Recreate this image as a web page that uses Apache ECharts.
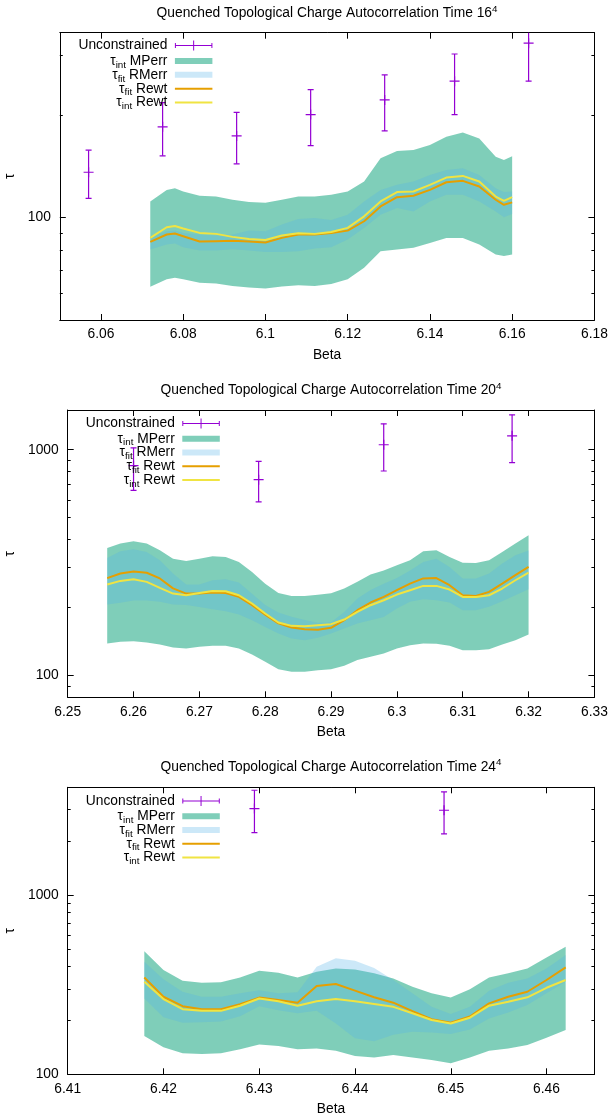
<!DOCTYPE html>
<html>
<head>
<meta charset="utf-8">
<script src="https://cdn.jsdelivr.net/npm/echarts@6/dist/echarts.min.js"></script>
<style>
html,body{margin:0;padding:0;background:#fff;}
#c{width:614px;height:1120px;}
</style>
</head>
<body>
<div id="c"></div>
<script>
// ---------------- Panel 1 : 16^4 ----------------
const P1_XRANGE = [6.05, 6.18];
const P1_YRANGE = [50, 350];
const P1_XTICKS = [6.06, 6.08, 6.10, 6.12, 6.14, 6.16, 6.18];
const P1_YMAJOR = [100];
const P1_YMINOR = [50, 60, 70, 80, 90, 200, 300];
const P1_UNC_BETA = [6.057, 6.075, 6.093, 6.111, 6.129, 6.146, 6.164];
const P1_UNC_TAU  = [136, 185, 174, 201, 222, 252, 326];
const P1_UNC_LO   = [114, 152, 144, 163, 180, 201, 252];
const P1_UNC_HI   = [158, 218, 204, 238, 263, 303, 420];
const P1_BETA  = [6.072, 6.076, 6.078, 6.080, 6.084, 6.088, 6.092, 6.096, 6.100, 6.104, 6.108, 6.112, 6.116, 6.120, 6.124, 6.128, 6.132, 6.136, 6.140, 6.144, 6.148, 6.152, 6.156, 6.158, 6.160];
const P1_MP_HI = [111.6, 120.7, 122.1, 119.4, 116.0, 115.4, 112.9, 111.1, 110.6, 112.9, 115.4, 115.4, 116.7, 119.4, 127.7, 149.5, 157.0, 158.1, 163.5, 172.9, 178.0, 171.0, 151.1, 147.8, 151.6];
const P1_MP_LO = [62.6, 65.9, 66.6, 65.9, 64.4, 64.0, 63.0, 62.3, 61.9, 62.7, 63.3, 63.0, 63.8, 65.9, 71.2, 79.7, 80.6, 81.5, 84.3, 87.2, 87.2, 83.4, 77.9, 77.1, 77.9];
const P1_RM_HI = [88.2, 91.2, 91.6, 90.2, 89.2, 88.6, 89.2, 91.6, 91.2, 95.4, 99.1, 99.8, 98.5, 102.0, 111.6, 120.7, 124.9, 127.7, 133.6, 138.2, 139.7, 133.6, 122.1, 119.0, 119.4];
const P1_RM_LO = [80.6, 83.4, 83.9, 81.9, 80.1, 80.1, 80.8, 80.1, 79.2, 79.2, 79.7, 81.2, 81.9, 86.2, 93.3, 102.0, 106.7, 104.3, 111.6, 116.7, 116.7, 111.6, 104.3, 100.2, 102.5];
const P1_FIT   = [84.9, 89.2, 89.8, 88.2, 85.1, 85.3, 85.5, 85.1, 84.5, 87.2, 89.2, 89.2, 90.2, 91.6, 97.6, 107.9, 114.9, 116.0, 120.7, 127.1, 128.3, 123.5, 112.9, 109.1, 110.9];
const P1_INT   = [87.2, 93.7, 94.5, 92.9, 90.2, 89.6, 87.8, 86.6, 86.0, 88.6, 90.0, 89.6, 90.8, 93.3, 100.9, 111.6, 118.9, 119.4, 124.9, 131.2, 132.7, 127.7, 115.4, 112.1, 114.9];

// ---------------- Panel 2 : 20^4 ----------------
const P2_XRANGE = [6.25, 6.33];
const P2_YRANGE = [80, 1500];
const P2_XTICKS = [6.25, 6.26, 6.27, 6.28, 6.29, 6.30, 6.31, 6.32, 6.33];
const P2_YMAJOR = [100, 1000];
const P2_YMINOR = [90, 200, 300, 400, 500, 600, 700, 800, 900];
const P2_UNC_BETA = [6.26, 6.279, 6.298, 6.3175];
const P2_UNC_TAU  = [850, 737, 1052, 1153];
const P2_UNC_LO   = [661, 587, 805, 876];
const P2_UNC_HI   = [1020, 888, 1303, 1428];
const P2_BETA  = [6.256, 6.258, 6.260, 6.262, 6.264, 6.266, 6.268, 6.270, 6.272, 6.274, 6.276, 6.278, 6.280, 6.282, 6.284, 6.286, 6.288, 6.290, 6.292, 6.294, 6.296, 6.298, 6.300, 6.302, 6.304, 6.306, 6.308, 6.310, 6.312, 6.314, 6.316, 6.318, 6.320];
const P2_MP_HI = [367, 384, 393, 384, 359, 329, 321, 329, 337, 335, 318, 287, 255, 232, 225, 225, 228, 231, 243, 260, 280, 292, 308, 324, 355, 359, 335, 316, 315, 324, 352, 384, 418];
const P2_MP_LO = [138.5, 140.9, 141.8, 139.9, 137.1, 133.0, 131.6, 133.9, 135.2, 135.2, 131.6, 123.8, 114.9, 106.6, 103.8, 103.8, 105.5, 106.6, 110.3, 116.9, 120.9, 125.1, 131.6, 136.2, 138.5, 138.0, 135.2, 129.4, 129.4, 130.7, 137.1, 143.3, 151.8];
const P2_RM_HI = [331, 355, 362, 352, 324, 283, 253, 253, 264, 267, 258, 230, 205, 190, 182, 176, 171, 172, 191, 219, 239, 255, 270, 292, 318, 329, 302, 269, 269, 283, 313, 341, 358];
const P2_RM_LO = [206, 210, 215, 215, 212, 206, 205, 201, 196.5, 192.6, 186.2, 175.7, 164.1, 153.4, 145.7, 143.3, 146.7, 153.4, 161.4, 169.8, 175.7, 181.7, 197.9, 211.8, 217.6, 215.4, 210.4, 194.5, 194.5, 201.3, 213.3, 226.6, 241];
const P2_FIT   = [270, 283, 289, 285, 269, 243, 230.5, 230.5, 233, 232, 223, 205, 186, 170, 163, 160, 159.5, 162.5, 175.7, 194.5, 210.4, 222.8, 238.6, 255, 269, 270, 251, 226.6, 225, 234.5, 255, 278, 302.5];
const P2_INT   = [252.7, 262.3, 266.8, 259.7, 244.3, 230.5, 226.6, 232.1, 236.9, 236.1, 226.6, 208.3, 188.1, 171.6, 165.8, 165.3, 167.0, 168.7, 176.9, 191.3, 204.7, 215.4, 228.2, 238.6, 249.3, 249.3, 240.2, 222.8, 222.8, 226.6, 242.7, 264.1, 285.5];

// ---------------- Panel 3 : 24^4 ----------------
const P3_XRANGE = [6.41, 6.465];
const P3_YRANGE = [100, 4000];
const P3_XTICKS = [6.41, 6.42, 6.43, 6.44, 6.45, 6.46];
const P3_YMAJOR = [100, 1000];
const P3_YMINOR = [200, 300, 400, 500, 600, 700, 800, 900, 2000, 3000, 4000];
const P3_UNC_BETA = [6.4295, 6.4493];
const P3_UNC_TAU  = [3043, 2979];
const P3_UNC_LO   = [2236, 2198];
const P3_UNC_HI   = [3850, 3768];
const P3_BETA  = [6.418, 6.420, 6.422, 6.424, 6.426, 6.428, 6.430, 6.432, 6.434, 6.436, 6.438, 6.440, 6.442, 6.444, 6.446, 6.448, 6.450, 6.452, 6.454, 6.456, 6.458, 6.460, 6.462];
const P3_MP_HI = [487, 382, 333, 324, 326, 347, 378, 369, 347, 374, 390, 385, 366, 343, 308, 283, 268, 298, 347, 366, 390, 449, 515];
const P3_MP_LO = [163.6, 141.4, 130.9, 129.8, 130.9, 137.8, 146.9, 143.8, 137.8, 139.5, 135.4, 126.5, 124.3, 128.1, 124.3, 120.2, 115.1, 124.3, 135.4, 139.5, 145.7, 160.1, 176.6];
const P3_RM_HI = [425, 339, 289, 271, 271, 283, 295, 283, 287, 398, 444, 430, 392, 336, 283, 238, 217, 238, 293, 324, 343, 390, 463];
const P3_RM_LO = [265, 208, 194, 195, 197, 211, 240, 228, 219, 226, 192, 159, 153, 166, 173, 171, 168, 178, 205, 221, 244, 283, 329];
const P3_FIT   = [347, 271, 240, 231, 231, 246, 268, 260, 251, 311, 319, 293, 269, 251, 225, 203, 194, 210, 249, 271, 289, 336, 395];
const P3_INT   = [329, 263, 231, 226, 226, 241.5, 265, 256, 241.5, 256, 263, 256, 247, 238, 219, 201, 192, 207, 241.5, 254, 269, 304, 336];

// ---------------- styling ----------------
const FONT = '"Liberation Sans", Arial, sans-serif';
const FS = 13.8;
const BLACK = '#000';
const COL = {
  unc: '#9400d3',
  mp: 'rgba(0,158,115,0.5)',
  rm: 'rgba(86,180,233,0.3)',
  fit: '#e69f00',
  int: '#f0e442'
};
const NAMES = ['Unconstrained', 'τint MPerr', 'τfit RMerr', 'τfit Rewt', 'τint Rewt'];
const LEGEND_TEXT = {
  'Unconstrained': '{e|Unconstrained}',
  'τint MPerr': '{m|τ}{s|int}{e| MPerr}',
  'τfit RMerr': '{m|τ}{s|fit}{e| RMerr}',
  'τfit Rewt': '{m|τ}{s|fit}{e| Rewt}',
  'τint Rewt': '{m|τ}{s|int}{e| Rewt}'
};
const RICH = {
  m: {fontSize: FS, fontFamily: FONT, color: BLACK, lineHeight: 18},
  e: {fontSize: FS, fontFamily: FONT, color: BLACK, lineHeight: 18, padding: [0, 2.5, 0, 0]},
  s: {fontSize: 9.8, fontFamily: FONT, color: BLACK, lineHeight: 10, padding: [8, 0, 0, 0]}
};
const ERR_ICON = 'path://M0 4.5H37.5V5.5H0Z M0 2.5H1V7.5H0Z M36.5 2.5H37.5V7.5H36.5Z M18.25 0H19.25V10H18.25Z';

const PANELS = [
  {sup: '16', grid: {left: 59.8, top: 32.7, width: 534.6, height: 287.3}, titleX: 327, titleTop: 4.3,
   yNameGap: 43, legRight: 401.6, legC0: 47, legStep: 13.9,
   xr: P1_XRANGE, yr: P1_YRANGE, xt: P1_XTICKS, ymaj: P1_YMAJOR, ymin: P1_YMINOR,
   ub: P1_UNC_BETA, ut: P1_UNC_TAU, ul: P1_UNC_LO, uh: P1_UNC_HI,
   b: P1_BETA, mpHi: P1_MP_HI, mpLo: P1_MP_LO, rmHi: P1_RM_HI, rmLo: P1_RM_LO, fit: P1_FIT, tint: P1_INT},
  {sup: '20', grid: {left: 67.7, top: 410, width: 526.7, height: 287.3}, titleX: 331, titleTop: 381,
   yNameGap: 51, legRight: 394.2, legC0: 425, legStep: 13.75,
   xr: P2_XRANGE, yr: P2_YRANGE, xt: P2_XTICKS, ymaj: P2_YMAJOR, ymin: P2_YMINOR,
   ub: P2_UNC_BETA, ut: P2_UNC_TAU, ul: P2_UNC_LO, uh: P2_UNC_HI,
   b: P2_BETA, mpHi: P2_MP_HI, mpLo: P2_MP_LO, rmHi: P2_RM_HI, rmLo: P2_RM_LO, fit: P2_FIT, tint: P2_INT},
  {sup: '24', grid: {left: 67.7, top: 787.3, width: 526.7, height: 287}, titleX: 331, titleTop: 757.7,
   yNameGap: 51, legRight: 394.2, legC0: 802.5, legStep: 13.75,
   xr: P3_XRANGE, yr: P3_YRANGE, xt: P3_XTICKS, ymaj: P3_YMAJOR, ymin: P3_YMINOR,
   ub: P3_UNC_BETA, ut: P3_UNC_TAU, ul: P3_UNC_LO, uh: P3_UNC_HI,
   b: P3_BETA, mpHi: P3_MP_HI, mpLo: P3_MP_LO, rmHi: P3_RM_HI, rmLo: P3_RM_LO, fit: P3_FIT, tint: P3_INT}
];

function errRender(params, api) {
  const x = api.value(0), y = api.value(1), lo = api.value(2), hi = api.value(3);
  const c = api.coord([x, y]), a = api.coord([x, lo]), t = api.coord([x, hi]);
  const cap = 3, mk = 5;
  const st = () => ({stroke: COL.unc, lineWidth: 1.2});
  return {type: 'group', children: [
    {type: 'line', shape: {x1: a[0], y1: a[1], x2: t[0], y2: t[1]}, style: st()},
    {type: 'line', shape: {x1: a[0] - cap, y1: a[1], x2: a[0] + cap, y2: a[1]}, style: st()},
    {type: 'line', shape: {x1: t[0] - cap, y1: t[1], x2: t[0] + cap, y2: t[1]}, style: st()},
    {type: 'line', shape: {x1: c[0] - mk, y1: c[1], x2: c[0] + mk, y2: c[1]}, style: st()},
    {type: 'line', shape: {x1: c[0], y1: c[1] - mk, x2: c[0], y2: c[1] + mk}, style: st()}
  ]};
}
function bandRender(xs, lo, hi, color) {
  return function (params, api) {
    if (params.dataIndex !== 0) return null;
    const pts = [];
    for (let i = 0; i < xs.length; i++) pts.push(api.coord([xs[i], hi[i]]));
    for (let i = xs.length - 1; i >= 0; i--) pts.push(api.coord([xs[i], lo[i]]));
    return {type: 'polygon', shape: {points: pts}, style: {fill: color}};
  };
}

const option = {animation: false, backgroundColor: '#fff', title: [], grid: [], xAxis: [], yAxis: [], legend: [], series: []};
const axFont = {color: BLACK, fontSize: FS, fontFamily: FONT};
const axLine = {show: true, onZero: false, lineStyle: {color: BLACK, width: 1}};

PANELS.forEach((p, i) => {
  option.title.push({
    text: '{m|Quenched Topological Charge Autocorrelation Time ' + p.sup + '}{s|4}',
    left: p.titleX, top: p.titleTop, textAlign: 'center', textVerticalAlign: 'top', padding: 0,
    textStyle: {fontSize: FS, fontWeight: 'normal', fontFamily: FONT, color: BLACK,
      rich: {m: {fontSize: FS, fontFamily: FONT, color: BLACK, lineHeight: 18},
             s: {fontSize: 9.8, fontFamily: FONT, color: BLACK, lineHeight: 10, padding: [0, 0, 8, 0]}}}
  });
  option.grid.push(Object.assign({show: false, containLabel: false, outerBoundsMode: 'none'}, p.grid));

  const xfmt = v => String(Math.round(v * 100) / 100);
  option.xAxis.push({
    gridIndex: i, type: 'value', position: 'bottom', min: p.xr[0], max: p.xr[1],
    name: 'Beta', nameLocation: 'middle', nameGap: 28, nameTextStyle: axFont,
    axisLine: axLine,
    axisTick: {show: true, inside: true, length: 6, customValues: p.xt, lineStyle: {color: BLACK, width: 1}},
    axisLabel: Object.assign({show: true, customValues: p.xt, margin: 7.5, formatter: xfmt}, axFont),
    splitLine: {show: false}, minorTick: {show: false}
  });
  option.xAxis.push({
    gridIndex: i, type: 'value', position: 'top', min: p.xr[0], max: p.xr[1],
    axisLine: axLine,
    axisTick: {show: true, inside: true, length: 6, customValues: p.xt, lineStyle: {color: BLACK, width: 1}},
    axisLabel: {show: false}, splitLine: {show: false}
  });
  const yfmt = v => String(Math.round(v));
  option.yAxis.push({
    gridIndex: i, type: 'log', logBase: 10, position: 'left', min: p.yr[0], max: p.yr[1],
    name: 'τ', nameLocation: 'middle', nameGap: p.yNameGap, nameTextStyle: axFont,
    axisLine: axLine,
    axisTick: {show: true, inside: true, length: 6, customValues: p.ymaj, lineStyle: {color: BLACK, width: 1}},
    axisLabel: Object.assign({show: true, customValues: p.ymaj, margin: 9, formatter: yfmt}, axFont),
    splitLine: {show: false}, minorTick: {show: false}
  });
  option.yAxis.push({
    gridIndex: i, type: 'log', logBase: 10, position: 'left', min: p.yr[0], max: p.yr[1],
    axisLine: {show: false},
    axisTick: {show: true, inside: true, length: 3, customValues: p.ymin, lineStyle: {color: BLACK, width: 1}},
    axisLabel: {show: false}, splitLine: {show: false}
  });
  option.yAxis.push({
    gridIndex: i, type: 'log', logBase: 10, position: 'right', min: p.yr[0], max: p.yr[1],
    axisLine: axLine,
    axisTick: {show: true, inside: true, length: 6, customValues: p.ymaj, lineStyle: {color: BLACK, width: 1}},
    axisLabel: {show: false}, splitLine: {show: false}
  });
  option.yAxis.push({
    gridIndex: i, type: 'log', logBase: 10, position: 'right', min: p.yr[0], max: p.yr[1],
    axisLine: {show: false},
    axisTick: {show: true, inside: true, length: 3, customValues: p.ymin, lineStyle: {color: BLACK, width: 1}},
    axisLabel: {show: false}, splitLine: {show: false}
  });

  const xi = 2 * i, yi = 4 * i;
  option.series.push({
    type: 'custom', name: NAMES[0], coordinateSystem: 'cartesian2d', xAxisIndex: xi, yAxisIndex: yi,
    clip: true, z: 2, itemStyle: {color: COL.unc},
    data: p.ub.map((b, j) => [b, p.ut[j], p.ul[j], p.uh[j]]),
    renderItem: errRender
  });
  option.series.push({
    type: 'custom', name: NAMES[1], coordinateSystem: 'cartesian2d', xAxisIndex: xi, yAxisIndex: yi,
    clip: true, z: 3, itemStyle: {color: COL.mp},
    data: p.b.map((b, j) => [b, p.mpLo[j], p.mpHi[j]]),
    renderItem: bandRender(p.b, p.mpLo, p.mpHi, COL.mp)
  });
  option.series.push({
    type: 'custom', name: NAMES[2], coordinateSystem: 'cartesian2d', xAxisIndex: xi, yAxisIndex: yi,
    clip: true, z: 4, itemStyle: {color: COL.rm},
    data: p.b.map((b, j) => [b, p.rmLo[j], p.rmHi[j]]),
    renderItem: bandRender(p.b, p.rmLo, p.rmHi, COL.rm)
  });
  option.series.push({
    type: 'line', name: NAMES[3], xAxisIndex: xi, yAxisIndex: yi, z: 5, clip: true,
    symbol: 'none', showSymbol: false, lineStyle: {color: COL.fit, width: 2}, itemStyle: {color: COL.fit},
    data: p.b.map((b, j) => [b, p.fit[j]])
  });
  option.series.push({
    type: 'line', name: NAMES[4], xAxisIndex: xi, yAxisIndex: yi, z: 6, clip: true,
    symbol: 'none', showSymbol: false, lineStyle: {color: COL.int, width: 2}, itemStyle: {color: COL.int},
    data: p.b.map((b, j) => [b, p.tint[j]])
  });

  const icons = [ERR_ICON, 'rect', 'rect', 'rect', 'rect'];
  const heights = [10, 6, 6, 2, 2];
  const colors = [COL.unc, COL.mp, COL.rm, COL.fit, COL.int];
  const extra = [0.5, 0, 0, 0, 0];
  NAMES.forEach((nm, r) => {
    option.legend.push({
      show: true, orient: 'horizontal', align: 'right', padding: 0, itemGap: 0,
      right: p.legRight, top: p.legC0 + r * p.legStep - 9 + extra[r],
      itemWidth: 37.5, itemHeight: heights[r], selectedMode: false,
      data: [{name: nm, icon: icons[r], itemStyle: {color: colors[r], borderWidth: 0, borderColor: 'transparent'}}],
      formatter: n => LEGEND_TEXT[n],
      textStyle: {fontSize: FS, fontFamily: FONT, color: BLACK, rich: RICH}
    });
  });
});

const chart = echarts.init(document.getElementById('c'), null, {renderer: 'canvas', width: 614, height: 1120});
chart.setOption(option);
</script>
</body>
</html>
